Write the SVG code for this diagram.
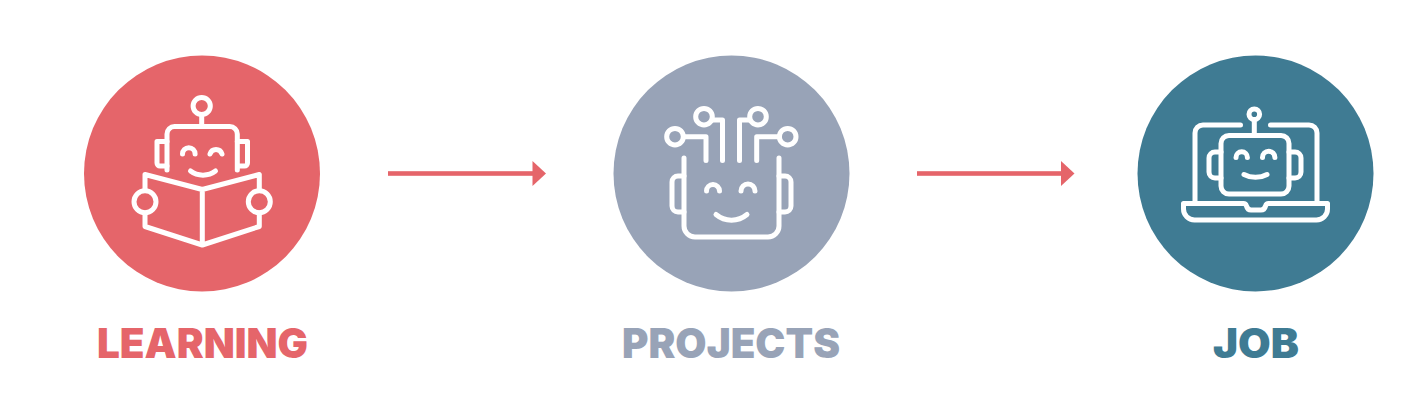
<svg xmlns="http://www.w3.org/2000/svg" width="1408" height="400" viewBox="0 0 1408 400">
<style>
.ic{fill:none;stroke:#fff;stroke-width:5;stroke-linecap:round;stroke-linejoin:round}
.lb{font-family:"Inter","Liberation Sans",sans-serif;font-weight:900;font-size:40.5px}
.ar{fill:#E5656A}
</style>
<rect width="1408" height="400" fill="#fff"/>
<g id="node-learning">
<circle cx="202" cy="173.500" r="118" fill="#E5656A"/>
<g class="ic">
<circle cx="201.700" cy="106" r="8.600"/>
<path d="M201.700 114.600V126.500"/>
<path d="M167 170V134a7.500 7.500 0 0 1 7.500-7.500h55.300a7.500 7.500 0 0 1 7.500 7.500V170"/>
<path d="M167 141.500H157v21.500a3 3 0 0 0 3 3h7M237.300 141.500H247.500v21.500a3 3 0 0 1-3 3h-7"/>
<path d="M182.500 154a6.300 6.300 0 0 1 12.600 0M210 154a6.300 6.300 0 0 1 12 0"/>
<path d="M190.500 171c7 5.500 18 5.500 25 0"/>
<path d="M145 190.500V174.500L202.300 189.500L259.300 174.500V190.500M145 213V226.500L202.300 245L259.300 226.500V213M202.300 189.500V245"/>
<circle cx="145" cy="201.700" r="11"/>
<circle cx="259.300" cy="201.700" r="11"/>
</g>
</g>
<g id="node-projects">
<circle cx="731.500" cy="173.500" r="118" fill="#98A3B7"/>
<g class="ic">
<circle cx="675" cy="136.700" r="8.300"/>
<circle cx="704" cy="116.700" r="8.300"/>
<circle cx="758" cy="116.700" r="8.300"/>
<circle cx="787.700" cy="136.700" r="8.300"/>
<path d="M683.500 136.700H706V160.500M712 120H722.500V160.500M749.500 120H739.500V160.500M779.500 136.700H756.700V160.500"/>
<path d="M684 158V226a11 11 0 0 0 11 11h73a11 11 0 0 0 11-11V158"/>
<path d="M684 176H678a6 6 0 0 0-6 6v24a6 6 0 0 0 6 6h6M779 176H785a6 6 0 0 1 6 6v24a6 6 0 0 1-6 6h-6"/>
<path d="M706.500 191a6.500 6.500 0 0 1 13 0M741 191a7 7 0 0 1 14 0"/>
<path d="M716 214.500c9 7.500 22 7.500 31 0"/>
</g>
</g>
<g id="node-job">
<circle cx="1255.500" cy="173.500" r="118" fill="#3F7B93"/>
<g class="ic">
<circle cx="1254.300" cy="114.300" r="5.300"/>
<path d="M1254.300 120V135.500"/>
<rect x="1221" y="135.500" width="68" height="58.500" rx="8"/>
<path d="M1221 152H1215a6 6 0 0 0-6 6v14a6 6 0 0 0 6 6h6M1289 152H1295a6 6 0 0 1 6 6v14a6 6 0 0 1-6 6h-6"/>
<path d="M1236 157.500a5.700 5.700 0 0 1 11.400 0M1262.500 157.500a6.200 6.200 0 0 1 12.400 0"/>
<path d="M1244 174.500c7 3.800 16 3.800 23 0"/>
<path d="M1240.500 125H1203a8 8 0 0 0-8 8V203M1270.500 125H1309a8 8 0 0 1 8 8V203"/>
<path d="M1183.500 203.500H1243.500c1.500 0 2.500 1 3 2.500c.7 2.700 2 4 4.500 4h10c2.500 0 3.800-1.300 4.500-4c.5-1.500 1.500-2.500 3-2.500H1327.500V209a11 11 0 0 1-11 11H1194.500a11 11 0 0 1-11-11Z"/>
</g>
</g>
<g id="connectors">
<rect class="ar" x="388" y="171.200" width="146" height="4.600"/>
<path class="ar" d="M532.500 161L546 173.500L532.500 186Z"/>
<rect class="ar" x="917" y="171.200" width="146" height="4.600"/>
<path class="ar" d="M1061 161L1074.500 173.500L1061 186Z"/>
</g>
<g id="labels">
<text class="lb" x="97" y="358" fill="#E5656A" textLength="211" lengthAdjust="spacingAndGlyphs">LEARNING</text>
<text class="lb" x="622" y="358" fill="#98A3B7" textLength="218" lengthAdjust="spacingAndGlyphs">PROJECTS</text>
<text class="lb" x="1213" y="358" fill="#3F7B93" textLength="86" lengthAdjust="spacingAndGlyphs">JOB</text>
</g>
</svg>
